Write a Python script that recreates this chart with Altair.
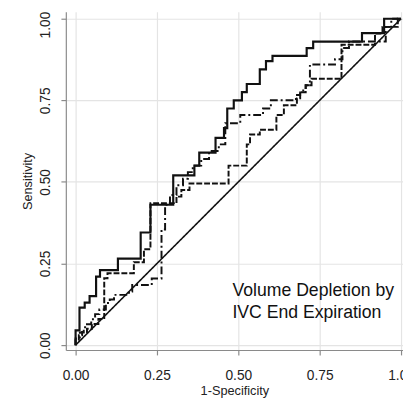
import altair as alt
import pandas as pd

# ROC step curves: x where each riser occurs, y level after the riser (drawn step-after)
a_x = [0, 0, 0.012, 0.028, 0.043, 0.063, 0.075, 0.13, 0.20, 0.23, 0.30, 0.365, 0.38, 0.43,
       0.456, 0.466, 0.486, 0.511, 0.526, 0.566, 0.585, 0.605, 0.71, 0.73, 0.88, 0.948, 1.0]
a_y = [0, 0.045, 0.115, 0.13, 0.15, 0.21, 0.23, 0.265, 0.345, 0.43, 0.52, 0.55, 0.59, 0.635,
       0.665, 0.725, 0.75, 0.775, 0.80, 0.845, 0.87, 0.886, 0.91, 0.93, 0.956, 1.0, 1.0]

b_x = [0, 0, 0.013, 0.025, 0.035, 0.048, 0.06, 0.073, 0.093, 0.105, 0.118, 0.164, 0.174, 0.234,
       0.264, 0.275, 0.29, 0.31, 0.33, 0.345, 0.36, 0.386, 0.41, 0.44, 0.46, 0.506, 0.576, 0.60,
       0.677, 0.69, 0.707, 0.72, 0.797, 0.82, 0.84, 0.953, 0.97, 1.0]
b_y = [0, 0.02, 0.039, 0.055, 0.064, 0.079, 0.095, 0.109, 0.129, 0.14, 0.154, 0.164, 0.184, 0.204,
       0.354, 0.43, 0.46, 0.49, 0.51, 0.53, 0.55, 0.57, 0.595, 0.615, 0.68, 0.705, 0.725, 0.75,
       0.766, 0.78, 0.796, 0.86, 0.876, 0.91, 0.93, 0.975, 1.0, 1.0]

c_x = [0, 0, 0.01, 0.02, 0.035, 0.05, 0.07, 0.088, 0.098, 0.179, 0.21, 0.23, 0.31, 0.325, 0.35,
       0.47, 0.526, 0.536, 0.566, 0.617, 0.64, 0.68, 0.69, 0.707, 0.725, 0.817, 0.92, 0.943, 0.99, 1.0]
c_y = [0, 0.015, 0.03, 0.04, 0.05, 0.065, 0.08, 0.205, 0.22, 0.254, 0.294, 0.435, 0.455, 0.475, 0.495,
       0.55, 0.615, 0.645, 0.66, 0.705, 0.735, 0.756, 0.775, 0.796, 0.816, 0.92, 0.955, 0.975, 1.0, 1.0]

ref_x = [0, 1]
ref_y = [0, 1]

tick_values = [0, 0.25, 0.5, 0.75, 1.0]
note_lines = ["Volume Depletion by", "IVC End Expiration"]
note_x = [0.482, 0.482]
note_y = [0.150, 0.084]

FONT = "Liberation Sans"

def frame(xs, ys):
    return pd.DataFrame({"x": xs, "y": ys, "o": list(range(len(xs)))})

xscale = alt.Scale(domain=[-0.030, 1.006], nice=False, zero=False)
yscale = alt.Scale(domain=[-0.015, 1.021], nice=False, zero=False)

xaxis = alt.Axis(values=tick_values, format=".2f", title="1-Specificity")
yaxis = alt.Axis(
    values=tick_values, format=".2f", title="Sensitivity", labelAngle=-90,
    labelOffset=alt.condition("datum.value == 1", alt.value(6), alt.value(0)),
)

def curve(xs, ys, dash, width, interp):
    return alt.Chart(frame(xs, ys)).mark_line(
        color="#111111", strokeWidth=width, strokeDash=dash, interpolate=interp, clip=True
    ).encode(
        x=alt.X("x:Q", scale=xscale, axis=xaxis),
        y=alt.Y("y:Q", scale=yscale, axis=yaxis),
        order="o:Q",
    )

ref = curve(ref_x, ref_y, [1, 0], 1.6, "linear")
ca = curve(a_x, a_y, [1, 0], 2.2, "step-after")
cb = curve(b_x, b_y, [8, 3, 2, 3], 2.0, "step-after")
cc = curve(c_x, c_y, [6, 2], 2.0, "step-after")

note = alt.Chart(pd.DataFrame({"x": note_x, "y": note_y, "t": note_lines})).mark_text(
    align="left", baseline="alphabetic", fontSize=18, font=FONT, color="#111111"
).encode(
    x=alt.X("x:Q", scale=xscale),
    y=alt.Y("y:Q", scale=yscale),
    text="t:N",
)

chart = alt.layer(ref, cc, cb, ca, note).properties(
    width=344,
    height=345,
    padding={"left": 59, "top": 0, "right": 0, "bottom": 45},
    autosize=alt.AutoSizeParams(type="none"),
    background="white",
).configure_view(
    strokeWidth=0
).configure_axis(
    grid=True,
    gridColor="#e4e4e4",
    gridWidth=1.2,
    domainColor="#8a8a8a",
    domainWidth=1.2,
    tickColor="#8a8a8a",
    tickSize=5,
    tickWidth=1.2,
    labelFont=FONT,
    labelFontSize=14,
    labelColor="#222222",
    titleFont=FONT,
    titleFontSize=13,
    titleFontWeight="normal",
    titleColor="#222222",
).configure_axisX(
    labelPadding=14,
    titlePadding=2,
).configure_axisY(
    labelPadding=9,
    titlePadding=4,
)

chart.save("out.html", embed_options={"renderer": "svg", "actions": False})
